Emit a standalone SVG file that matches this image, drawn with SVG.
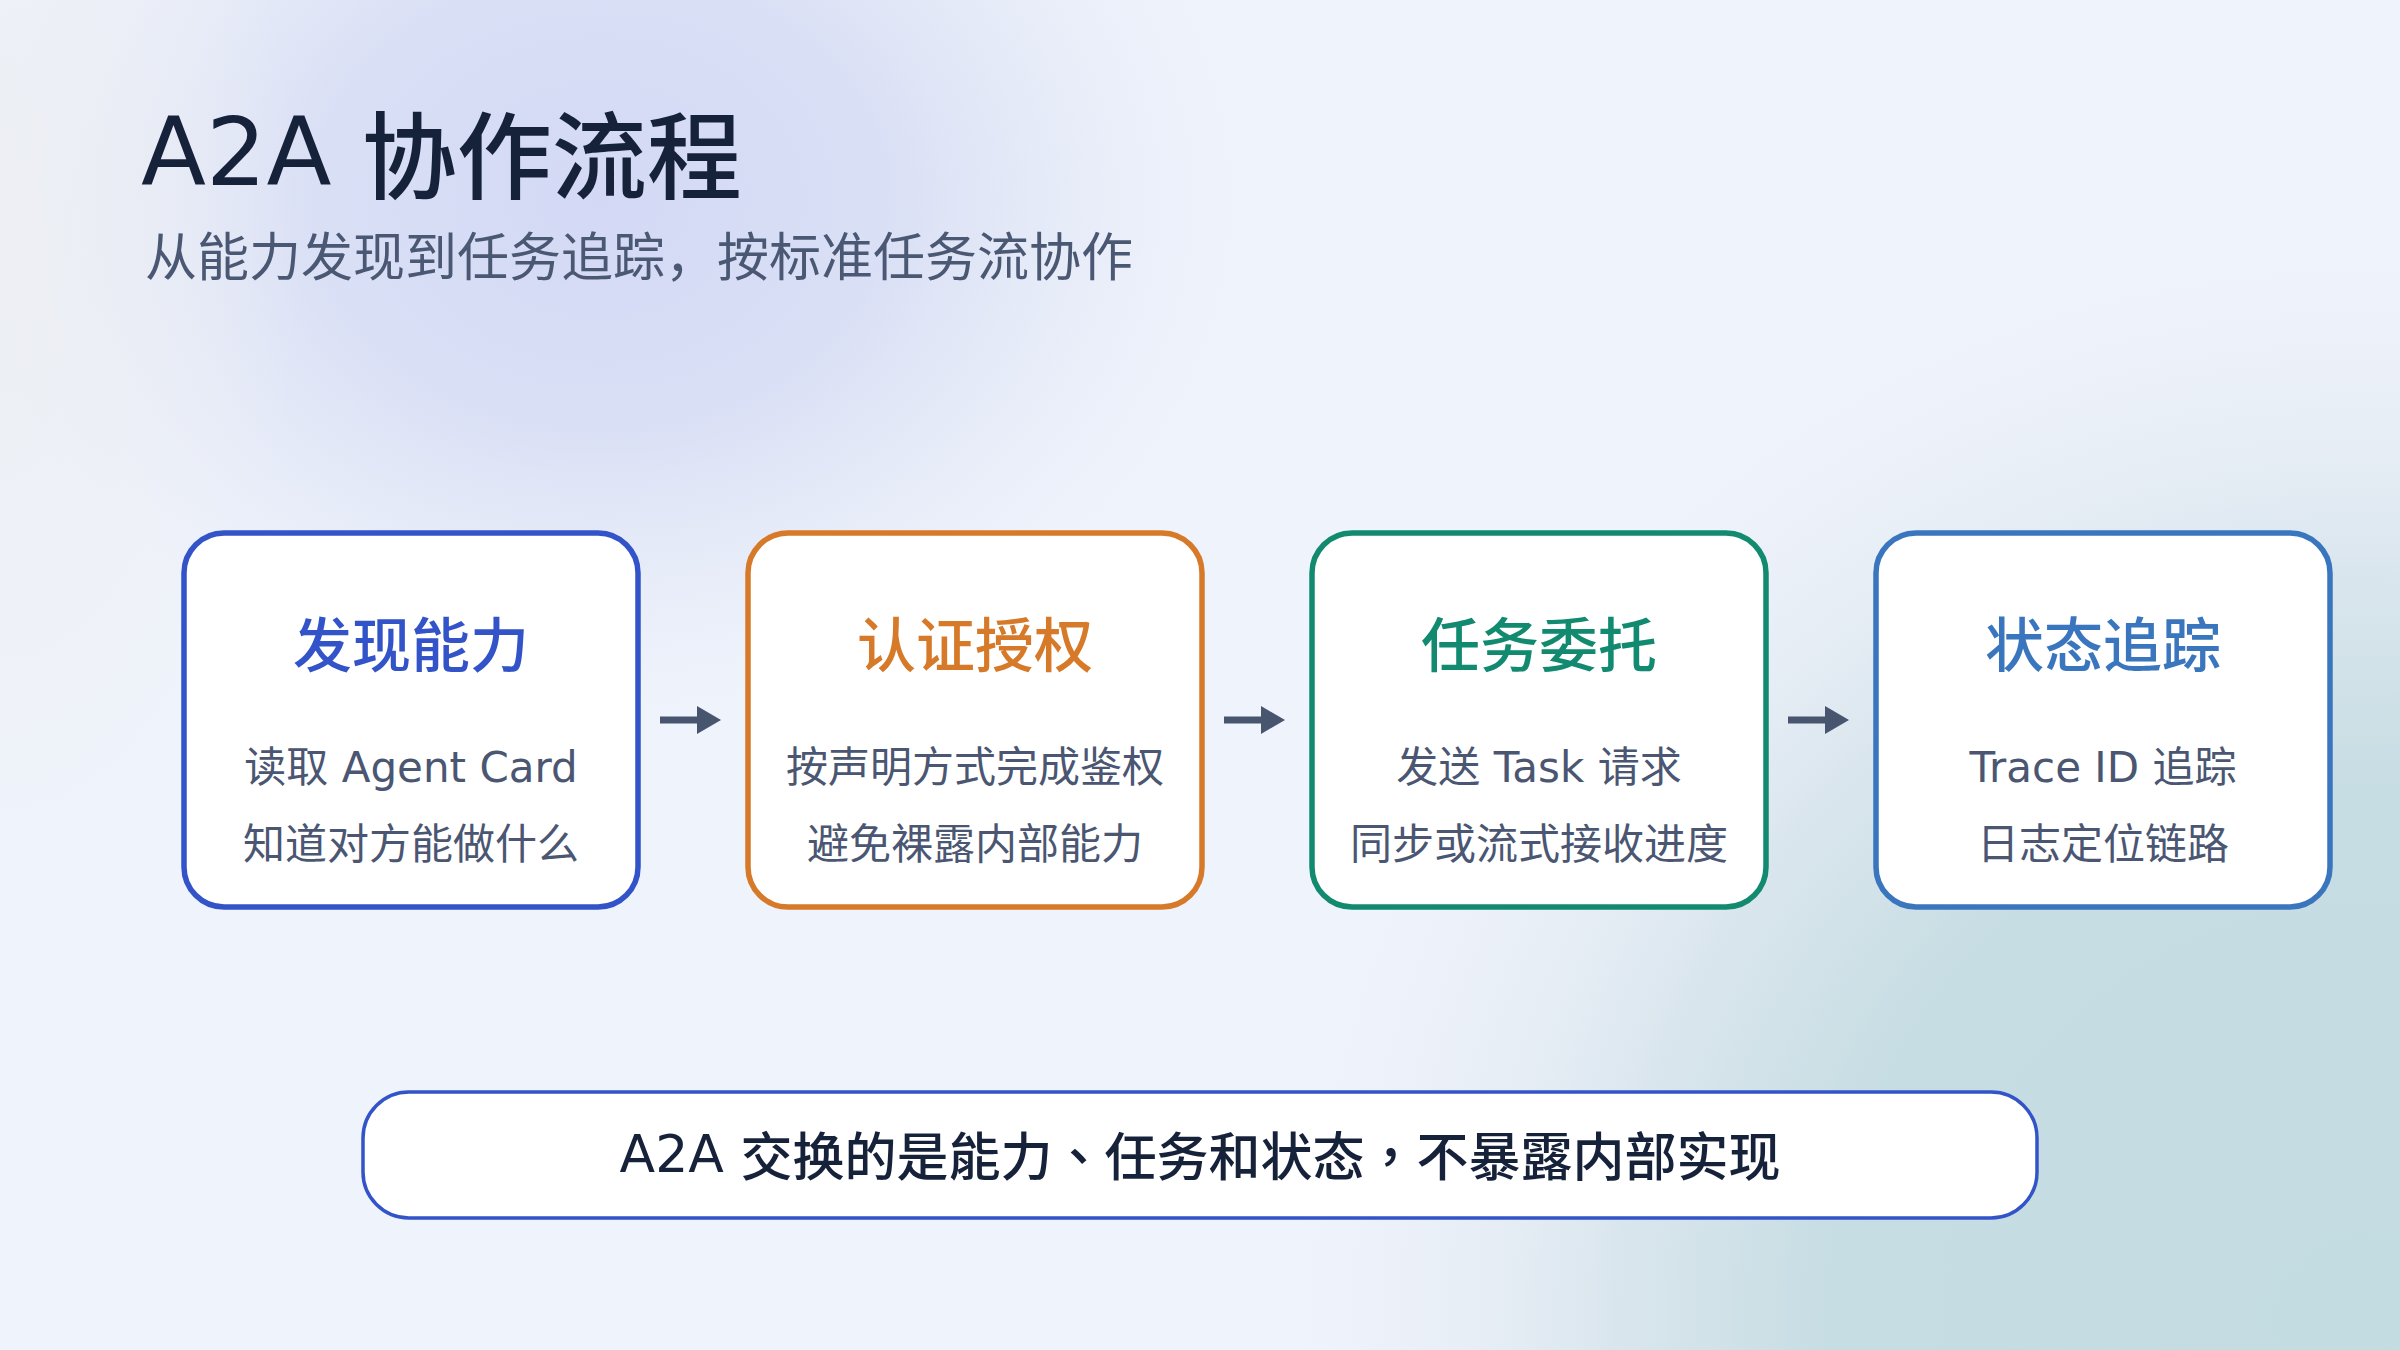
<svg xmlns="http://www.w3.org/2000/svg" width="2400" height="1350" viewBox="0 0 2400 1350">
  <defs>
    <radialGradient id="glowA" cx="600" cy="200" r="640" gradientUnits="userSpaceOnUse" gradientTransform="translate(600 200) scale(1 0.8) translate(-600 -200)">
      <stop offset="0" stop-color="#d3d9f5" stop-opacity="1"/>
      <stop offset="0.45" stop-color="#d6dcf4" stop-opacity="0.85"/>
      <stop offset="1" stop-color="#e2e7f7" stop-opacity="0"/>
    </radialGradient>
    <radialGradient id="glowB" cx="2360" cy="1320" r="1060" gradientUnits="userSpaceOnUse">
      <stop offset="0" stop-color="#c3dce1" stop-opacity="1"/>
      <stop offset="0.5" stop-color="#c6dde3" stop-opacity="1"/>
      <stop offset="0.7" stop-color="#d2e1e8" stop-opacity="0.75"/>
      <stop offset="1" stop-color="#e6ecf5" stop-opacity="0"/>
    </radialGradient>
    <radialGradient id="edge" cx="0" cy="250" r="300" gradientUnits="userSpaceOnUse" gradientTransform="translate(0 250) scale(1 2) translate(0 -250)">
      <stop offset="0" stop-color="#eceef2" stop-opacity="0.9"/>
      <stop offset="1" stop-color="#eceef2" stop-opacity="0"/>
    </radialGradient>
    <marker id="head" viewBox="0 0 24 28" refX="1" refY="14" markerWidth="24" markerHeight="28" markerUnits="userSpaceOnUse" orient="auto">
      <path d="M0,0 L24,14 L0,28 Z" fill="#48556f"/>
    </marker>
    <style>
      .bg-base { fill: #eff3fb; }
      .card { fill: #ffffff; stroke-width: 5.5; }
      .ttl { font-family: "DejaVu Sans", "Noto Sans CJK SC", sans-serif; font-size: 59px; font-weight: 500; text-anchor: middle; }
      .sub { font-family: "DejaVu Sans", "Noto Sans CJK SC", sans-serif; font-size: 42px; font-weight: 400; fill: #4a5672; text-anchor: middle; }
      .arrow { stroke: #48556f; stroke-width: 7; fill: none; marker-end: url(#head); }
    </style>
  </defs>

  <!-- background -->
  <rect class="bg-base" x="0" y="0" width="2400" height="1350"/>
  <rect x="0" y="0" width="2400" height="1350" fill="url(#glowB)"/>
  <rect x="0" y="0" width="2400" height="1350" fill="url(#glowA)"/>
  <rect x="0" y="0" width="2400" height="1350" fill="url(#edge)"/>

  <!-- heading -->
  <g id="heading">
    <text x="141" y="192" font-family="&quot;DejaVu Sans&quot;, &quot;Noto Sans CJK SC&quot;, sans-serif" font-size="95" font-weight="500" fill="#16213a"><tspan dy="-7">A2A </tspan><tspan dy="7">协作流程</tspan></text>
    <text x="145" y="276" font-family="&quot;Noto Sans CJK SC&quot;, sans-serif" font-size="52" fill="#4b5873">从能力发现到任务追踪，按标准任务流协作</text>
  </g>

  <!-- connectors -->
  <g id="connectors">
    <line class="arrow" x1="660" y1="720" x2="698" y2="720"/>
    <line class="arrow" x1="1224" y1="720" x2="1262" y2="720"/>
    <line class="arrow" x1="1788" y1="720" x2="1826" y2="720"/>
  </g>

  <!-- nodes -->
  <g id="node-discover">
    <rect class="card" x="184" y="533" width="454" height="374" rx="40" stroke="#3354c8"/>
    <text class="ttl" x="411" y="667" fill="#3354c8">发现能力</text>
    <text class="sub" x="411" y="782">读取 Agent Card</text>
    <text class="sub" x="411" y="859">知道对方能做什么</text>
  </g>
  <g id="node-auth">
    <rect class="card" x="748" y="533" width="454" height="374" rx="40" stroke="#d67a2a"/>
    <text class="ttl" x="975" y="667" fill="#d67a2a">认证授权</text>
    <text class="sub" x="975" y="782">按声明方式完成鉴权</text>
    <text class="sub" x="975" y="859">避免裸露内部能力</text>
  </g>
  <g id="node-delegate">
    <rect class="card" x="1312" y="533" width="454" height="374" rx="40" stroke="#128a70"/>
    <text class="ttl" x="1539" y="667" fill="#128a70">任务委托</text>
    <text class="sub" x="1539" y="782">发送 Task 请求</text>
    <text class="sub" x="1539" y="859">同步或流式接收进度</text>
  </g>
  <g id="node-track">
    <rect class="card" x="1876" y="533" width="454" height="374" rx="40" stroke="#3a76be"/>
    <text class="ttl" x="2103" y="667" fill="#3a76be">状态追踪</text>
    <text class="sub" x="2103" y="782">Trace ID 追踪</text>
    <text class="sub" x="2103" y="859">日志定位链路</text>
  </g>

  <g id="node-summary">
    <rect x="363" y="1092" width="1674" height="126" rx="46" fill="#ffffff" stroke="#3354c8" stroke-width="3.5"/>
    <text x="1200" y="1176" text-anchor="middle" font-family="&quot;DejaVu Sans&quot;, &quot;Noto Sans CJK TC&quot;, sans-serif" font-size="52" font-weight="500" fill="#16213a"><tspan dy="-4">A2A </tspan><tspan dy="4">交换的是能力、任务和状态，不暴露内部实现</tspan></text>
  </g>
</svg>
